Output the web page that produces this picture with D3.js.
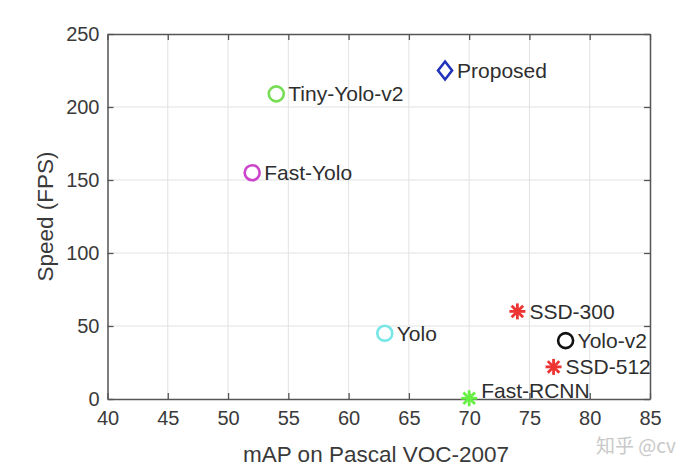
<!DOCTYPE html>
<html><head><meta charset="utf-8">
<script src="https://cdn.jsdelivr.net/npm/d3@7"></script>
<style>body{margin:0;background:#fff}svg{display:block}text{font-family:"Liberation Sans",Arial,sans-serif}</style>
</head><body>
<svg id="c" width="700" height="470"></svg>
<script>
const names = ["Proposed","Tiny-Yolo-v2","Fast-Yolo","Yolo","SSD-300","Yolo-v2","SSD-512","Fast-RCNN"];
const mAP   = [68, 54, 52, 63, 74, 78, 77, 70];
const fps   = [225, 209, 155, 45, 60, 40, 22, 0.5];
const markers = ["diamond","circle","circle","circle","asterisk","circle","asterisk","asterisk"];
const colors = ["#2233bb","#77dd55","#cc44cc","#77e6e6","#ee3333","#111111","#ee3333","#66f044"];
const xTicks = [40,45,50,55,60,65,70,75,80,85];
const yTicks = [0,50,100,150,200,250];

const svg = d3.select("#c");
const L=107.5,R=650,T=34,B=399;
const x = d3.scaleLinear().domain([40,85]).range([L,R]);
const y = d3.scaleLinear().domain([0,250]).range([B,T]);

// grid
svg.append("g").selectAll("line").data(xTicks.slice(1,-1)).join("line")
  .attr("x1",d=>x(d)).attr("x2",d=>x(d)).attr("y1",T).attr("y2",B)
  .attr("stroke","#e2e2e2").attr("stroke-width",1);
svg.append("g").selectAll("line").data(yTicks.slice(1,-1)).join("line")
  .attr("y1",d=>y(d)).attr("y2",d=>y(d)).attr("x1",L).attr("x2",R)
  .attr("stroke","#e2e2e2").attr("stroke-width",1);

// axes with inward ticks
const ax = (gen, tr) => svg.append("g").attr("transform",tr).call(gen);
const styleAx = g => { g.select(".domain").attr("stroke","#555").attr("stroke-width",1.5);
  g.selectAll(".tick line").attr("stroke","#555").attr("stroke-width",1.3);
  g.selectAll(".tick text").attr("fill","#3a3a3a").style("font-size","20px").style("font-family","'Liberation Sans',Arial,sans-serif"); };
const gb = ax(d3.axisBottom(x).tickValues(xTicks).tickSizeInner(-6).tickSizeOuter(0).tickPadding(12), `translate(0,${B})`); styleAx(gb);
const gt = ax(d3.axisTop(x).tickValues(xTicks).tickSizeInner(-6).tickSizeOuter(0).tickFormat(""), `translate(0,${T})`); styleAx(gt);
const gl = ax(d3.axisLeft(y).tickValues(yTicks).tickSizeInner(-6).tickSizeOuter(0).tickPadding(8), `translate(${L},0)`); styleAx(gl);
const gr = ax(d3.axisRight(y).tickValues(yTicks).tickSizeInner(-6).tickSizeOuter(0).tickFormat(""), `translate(${R},0)`); styleAx(gr);

// points
const data = names.map((n,i)=>({n, x:mAP[i], y:fps[i], m:markers[i], c:colors[i]}));
const pg = svg.append("g").selectAll("g").data(data).join("g")
  .attr("transform",d=>`translate(${x(d.x)},${y(d.y)})`);
pg.each(function(d){
  const g = d3.select(this);
  if(d.m==="circle"){
    g.append("circle").attr("r",7.5).attr("fill","none").attr("stroke",d.c).attr("stroke-width",2.6);
  } else if(d.m==="diamond"){
    g.append("path").attr("d","M0,-9L7,0L0,9L-7,0Z").attr("fill","none").attr("stroke",d.c).attr("stroke-width",2.6);
  } else {
    const r=8;
    const p = [[0,-r,0,r],[-r,0,r,0],[-r*0.72,-r*0.72,r*0.72,r*0.72],[-r*0.72,r*0.72,r*0.72,-r*0.72]];
    p.forEach(q=>g.append("line").attr("x1",q[0]).attr("y1",q[1]).attr("x2",q[2]).attr("y2",q[3])
      .attr("stroke",d.c).attr("stroke-width",2.8));
  }
  const ty = Math.min(7.5, B - 1.5 - y(d.y));
  g.append("text").attr("x",12).attr("y",ty).text(d.n).attr("fill","#2e2e2e").style("font-size","21px");
});

// axis titles
svg.append("text").attr("x",376).attr("y",462).attr("text-anchor","middle")
  .attr("fill","#3a3a3a").style("font-size","22.5px").text("mAP on Pascal VOC-2007");
svg.append("text").attr("transform",`translate(53,${(T+B)/2}) rotate(-90)`).attr("text-anchor","middle")
  .attr("fill","#3a3a3a").style("font-size","22.5px").text("Speed (FPS)");

// watermark
svg.append("text").attr("x",596).attr("y",453).attr("fill","#c8c8c8").style("font-size","19px")
  .style("font-family","'Noto Sans CJK SC',sans-serif").text("知乎 @cv");
</script>
</body></html>
